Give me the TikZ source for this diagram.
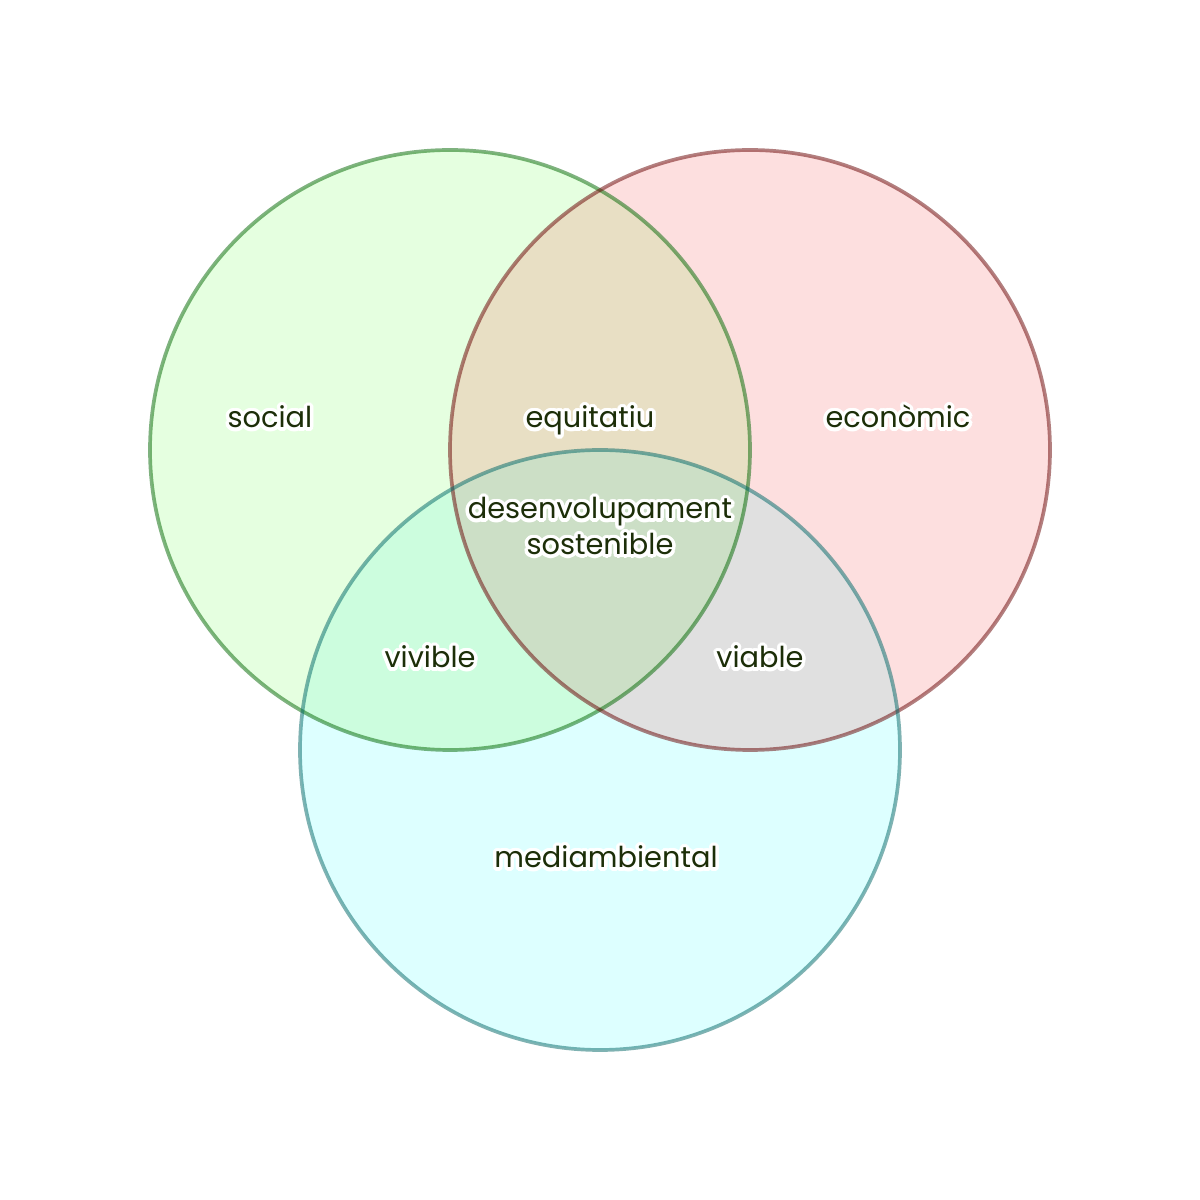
\documentclass[tikz,border=0pt]{standalone}
\usepackage{fontspec}
\setmainfont{Poppins}
\usepackage{contour}
\contourlength{1pt}
\contournumber{16}
\definecolor{socfill}{RGB}{229,255,224}
\definecolor{ecofill}{RGB}{253,223,223}
\definecolor{envfill}{RGB}{221,255,255}
\definecolor{socecofill}{RGB}{232,223,196}
\definecolor{socenvfill}{RGB}{204,253,222}
\definecolor{ecoenvfill}{RGB}{224,224,224}
\definecolor{allfill}{RGB}{204,223,198}
\definecolor{txt}{RGB}{28,46,8}
\newcommand{\lb}[1]{\contour{white}{#1}}
\begin{document}
\begin{tikzpicture}
\tikzstyle{lbl}=[text=txt, font=\fontsize{8.2}{10.2}\selectfont, align=center];
\tikzstyle{ring}=[line width=1.05pt, draw opacity=0.5];

\useasboundingbox (0,0) rectangle (12,12);
\def\soc{(4.5,7.5) circle (3)}
\def\eco{(7.5,7.5) circle (3)}
\def\env{(6,4.5) circle (3)}

% fills
\fill[socfill] \soc;
\fill[ecofill] \eco;
\fill[envfill] \env;
\begin{scope} \clip \soc; \fill[socecofill] \eco; \end{scope}
\begin{scope} \clip \soc; \fill[socenvfill] \env; \end{scope}
\begin{scope} \clip \eco; \fill[ecoenvfill] \env; \end{scope}
\begin{scope} \clip \soc; \clip \eco; \fill[allfill] \env; \end{scope}

% rings
\draw[ring, green!40!black] \soc;
\draw[ring, red!40!black] \eco;
\draw[ring, teal!80!black] \env;

  \node[lbl, anchor=base] (social) at (2.7,7.72) {\lb{social}};
  \node[lbl, anchor=base] (equitatiu) at (5.9,7.72) {\lb{equitatiu}};
  \node[lbl, anchor=base] (economic) at (8.98,7.72) {\lb{econòmic}};
  \node[lbl] (sost) at (6,6.72) {\lb{desenvolupament}\\\lb{sostenible}};
  \node[lbl, anchor=base] (vivible) at (4.3,5.32) {\lb{vivible}};
  \node[lbl, anchor=base] (viable) at (7.6,5.32) {\lb{viable}};
  \node[lbl, anchor=base] (medi) at (6.06,3.32) {\lb{mediambiental}};
\end{tikzpicture}
\end{document}
